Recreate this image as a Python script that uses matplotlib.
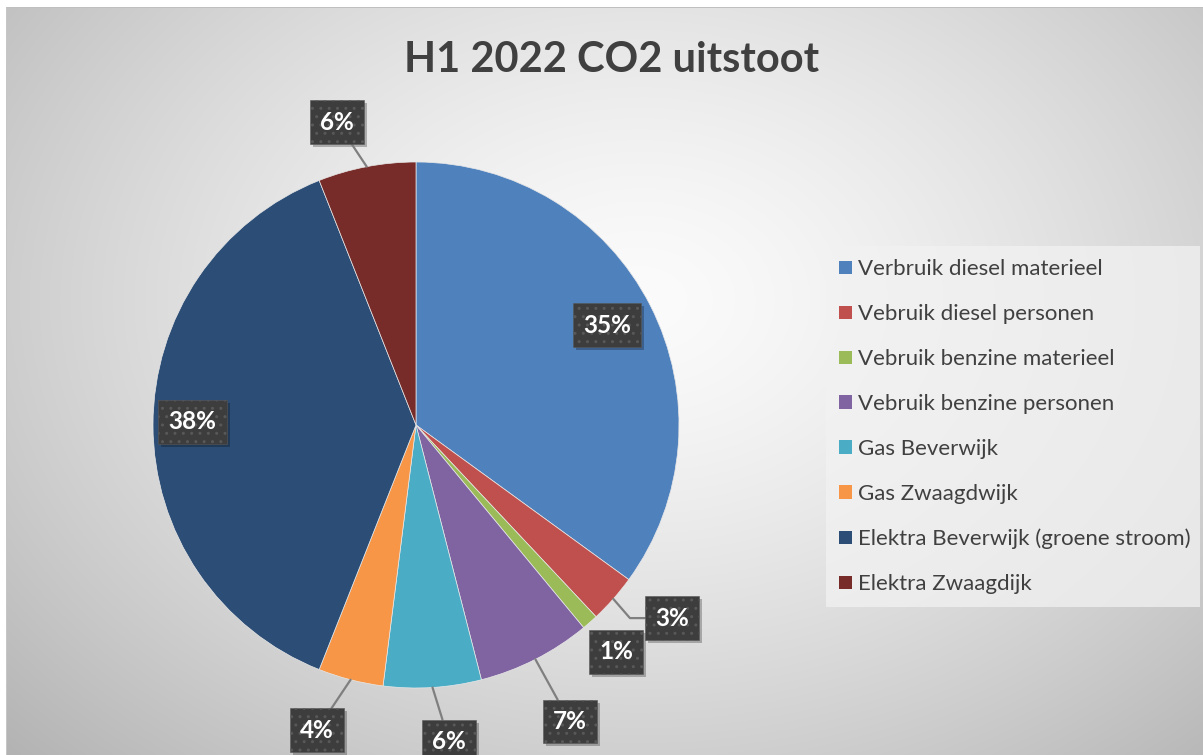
import numpy as np
import matplotlib
matplotlib.use("Agg")
import matplotlib.pyplot as plt
from matplotlib.patches import Patch, Rectangle
from matplotlib.transforms import IdentityTransform

plt.rcParams['font.family'] = ['Lato', 'DejaVu Sans']

# data
labels = ["Verbruik diesel materieel", "Vebruik diesel personen",
          "Vebruik benzine materieel", "Vebruik benzine personen",
          "Gas Beverwijk", "Gas Zwaagdwijk",
          "Elektra Beverwijk (groene stroom)", "Elektra Zwaagdijk"]
values = [35, 3, 1, 7, 6, 4, 38, 6]
colors = ["#4F81BD", "#C0504D", "#9BBB59", "#8064A2",
          "#4BACC6", "#F79646", "#2C4D75", "#772C2A"]
# label placement: distance (in radii) and angle shift (deg) per slice
label_dist = [0.82, 1.22, 1.15, 1.27, 1.21, 1.22, 0.85, 1.19]
label_shift = [0.6, 4.4, 0.0, 0.4, 2.4, -3.6, -0.8, 3.8]
leader = [False, True, False, True, True, True, False, True]

W, H = 1203, 755
fig = plt.figure(figsize=(W / 100, H / 100), dpi=100)

# background radial gradient
bg = fig.add_axes([0, 0, 1, 1])
yy, xx = np.mgrid[0:H, 0:W]
d = np.sqrt(((xx - 640) / 760.0) ** 2 + ((yy - 300) / 560.0) ** 2)
shade = 0.985 - 0.23 * np.clip(d, 0, 1.2) ** 1.4
img = np.dstack([shade, shade, shade])
img[:7, :, :] = 1.0
img[:, :6, :] = 1.0
img[7, 6:, :] = 0.75
img[7:, 6, :] = 0.78
bg.imshow(img, extent=[0, W, H, 0], aspect='auto', interpolation='bilinear')
bg.set_xlim(0, W)
bg.set_ylim(H, 0)
bg.axis('off')

# pie axes: center (416, 425) px, radius 263 px
cx, cy, R = 416, 425, 263
ax = fig.add_axes([(cx - R) / W, (H - cy - R) / H, 2 * R / W, 2 * R / H])
wedges, _ = ax.pie(values, colors=colors, startangle=90, counterclock=False,
                   radius=1, wedgeprops=dict(edgecolor='#e8e8e8', linewidth=0.5))
ax.set_xlim(-1, 1)
ax.set_ylim(-1, 1)
ax.axis('off')

box = dict(boxstyle='square,pad=0.42', facecolor='#3d3d3d',
           edgecolor='#585858', linewidth=0.4, hatch='..')

total = sum(values)
start = 90.0
annots = []
for v, dist, sh, ld in zip(values, label_dist, label_shift, leader):
    mid_deg = start - 360.0 * v / total / 2
    start -= 360.0 * v / total
    mid = np.deg2rad(mid_deg)
    la = np.deg2rad(mid_deg + sh)
    tx, ty = dist * np.cos(la), dist * np.sin(la)
    arrow = None
    if ld:
        arrow = dict(arrowstyle='-', color='#7f7f7f', lw=1.6,
                     shrinkA=0, shrinkB=0)
        if v == 3:
            arrow['connectionstyle'] = 'angle,angleA=0,angleB=-49,rad=0'
    a = ax.annotate(f"{v}%", xy=(np.cos(mid), np.sin(mid)), xytext=(tx, ty),
                    ha='center', va='center', fontsize=17.5, fontweight='bold',
                    color='white', bbox=box, arrowprops=arrow,
                    annotation_clip=False, zorder=5)
    annots.append(a)

# soft drop shadow behind the label boxes
fig.canvas.draw()
for a in annots:
    ext = a.get_bbox_patch().get_window_extent()
    sh_rect = Rectangle((ext.x0 + 3, ext.y0 - 3), ext.width, ext.height,
                        facecolor='black', alpha=0.25, edgecolor='none',
                        zorder=4.5, clip_on=False)
    sh_rect.set_transform(IdentityTransform())
    ax.add_artist(sh_rect)

fig.text(612 / W, 1 - 60 / H, "H1 2022 CO2 uitstoot", ha='center', va='center',
         fontsize=30, fontweight='bold', color='#404040')

handles = [Patch(facecolor=c, edgecolor='none') for c in colors]
leg = fig.legend(handles, labels, loc='upper left', mode='expand',
                 bbox_to_anchor=(826 / W, 1 - 246 / H - 0.01, 374 / W, 0.01),
                 bbox_transform=fig.transFigure,
                 frameon=True, fancybox=False, fontsize=16, labelcolor='#404040',
                 handlelength=0.55, handleheight=0.55, handletextpad=0.3,
                 labelspacing=1.12, borderpad=0.6, borderaxespad=0)
leg.get_frame().set_facecolor('#f2f2f2')
leg.get_frame().set_alpha(0.75)
leg.get_frame().set_edgecolor('none')

fig.savefig("out.png", dpi=100)
